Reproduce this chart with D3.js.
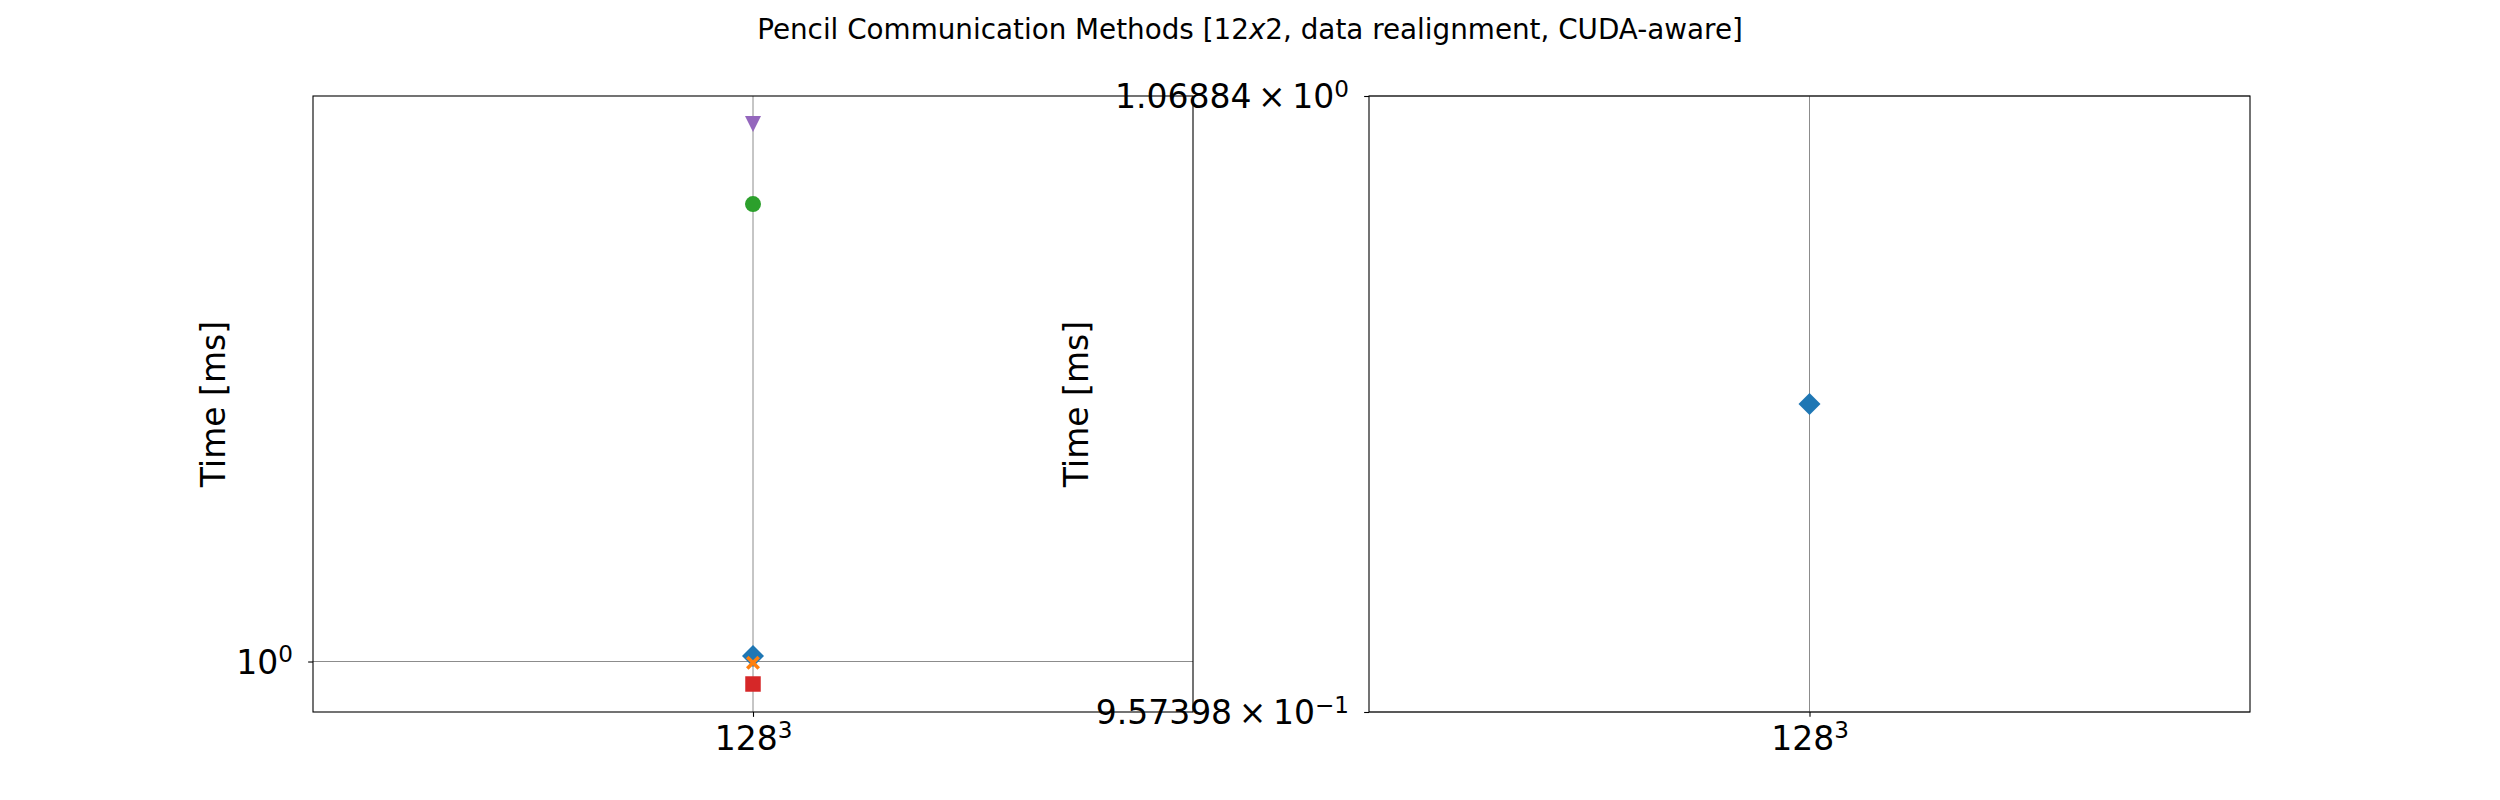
<!DOCTYPE html>
<html>
<head>
<meta charset="utf-8">
<script src="https://cdn.jsdelivr.net/npm/d3@7"></script>
<style>
  html, body { margin: 0; padding: 0; background: #ffffff; }
  svg { display: block; }
  text { font-family: "DejaVu Sans", sans-serif; fill: #000; }
</style>
</head>
<body>
<svg id="chart" width="2500" height="800"></svg>
<script>
// ---------------- data ----------------
const categories = ["128^3"];                 // problem size (x tick label, base^exp)
const seriesNames = ["series 1", "series 2", "series 3", "series 4", "series 5"];
const timesSeries1 = [1.0116];                // blue diamond
const timesSeries2 = [0.9975];                // orange X
const timesSeries3 = [2.606];                 // green circle
const timesSeries4 = [0.954];                 // red square
const timesSeries5 = [3.082];                 // purple triangle
const leftYTicks = [1];                       // 10^0
const rightYLimits = [0.957398, 1.06884];     // explicit limits of right panel
const rightYTicks = [0.957398, 1.06884];
const titleText = ["Pencil Communication Methods [12", "x", "2, data realignment, CUDA-aware]"];
const yLabelText = "Time [ms]";

// ---------------- styles ----------------
const colors = ["#1f77b4", "#ff7f0e", "#2ca02c", "#d62728", "#9467bd"];
const diamond = { draw(ctx, size) { const r = Math.sqrt(size) / 2; ctx.moveTo(0, -r); ctx.lineTo(r, 0); ctx.lineTo(0, r); ctx.lineTo(-r, 0); ctx.closePath(); } };
const triDown = { draw(ctx, size) { const r = Math.sqrt(size) / 2; ctx.moveTo(-r, -r); ctx.lineTo(r, -r); ctx.lineTo(0, r); ctx.closePath(); } };
const xFilled = { draw(ctx, size) {
  const r = Math.sqrt(size) / 2, t = r * 0.36;
  const pts = [[0,-t],[r-t,-r],[r,-r+t],[t,0],[r,r-t],[r-t,r],[0,t],[-r+t,r],[-r,r-t],[-t,0],[-r,-r+t],[-r+t,-r]];
  ctx.moveTo(pts[0][0], pts[0][1]); for (let i = 1; i < pts.length; i++) ctx.lineTo(pts[i][0], pts[i][1]); ctx.closePath(); } };
const symbols = [diamond, xFilled, d3.symbolCircle, d3.symbolSquare, triDown];
const symbolSizes = [22 * 22, 14 * 14, Math.PI * 8 * 8, 15.5 * 15.5, 16 * 16];

const allSeries = [timesSeries1, timesSeries2, timesSeries3, timesSeries4, timesSeries5].map((v, i) => ({
  name: seriesNames[i], values: v, color: colors[i], symbol: symbols[i], size: symbolSizes[i]
}));

const svg = d3.select("#chart");
const FONT_TICK = 33, FONT_LABEL = 33, FONT_TITLE = 27.8;
const TICK_LEN = 4.86;
const yTop = 96, yBottom = 712;
const panels = [
  { x0: 313, x1: 1193, series: allSeries, labelX: 213 },
  { x0: 1369, x1: 2250, series: [allSeries[0]], labelX: 1076, limits: rightYLimits, ticks: rightYTicks }
];

// title
const title = svg.append("text").attr("x", 1250).attr("y", 39).attr("text-anchor", "middle").style("font-size", FONT_TITLE + "px");
title.append("tspan").text(titleText[0]);
title.append("tspan").style("font-style", "italic").text(titleText[1]);
title.append("tspan").text(titleText[2]);

function fmtSci(v) {
  const e = Math.floor(Math.log10(v) + 1e-12);
  const m = v / Math.pow(10, e);
  if (Math.abs(m - 1) < 1e-9) return { base: "10", sup: String(e).replace("-", "\u2212") };
  return { base: (+m.toFixed(5)).toString() + "\u2009\u00d7\u200910", sup: String(e).replace("-", "\u2212") };
}

function setSupText(sel, parts, fs) {
  sel.text(null);
  sel.append("tspan").text(parts.base);
  sel.append("tspan").attr("dy", -fs * 0.36).style("font-size", (fs * 0.7) + "px").text(parts.sup);
}

panels.forEach(p => {
  const g = svg.append("g");
  const x = d3.scalePoint().domain(categories).range([p.x0, p.x1]).padding(0.5);
  let domain;
  if (p.limits) domain = p.limits;
  else {
    const vals = p.series.flatMap(s => s.values);
    const lo = Math.log10(d3.min(vals)), hi = Math.log10(d3.max(vals));
    const pad = 0.05 * (hi - lo);
    domain = [Math.pow(10, lo - pad), Math.pow(10, hi + pad)];
  }
  const y = d3.scaleLog().domain(domain).range([yBottom, yTop]);
  const yTicks = p.ticks || leftYTicks;

  // grid
  const grid = g.append("g").attr("stroke", "#8c8c8c").attr("stroke-width", 1);
  categories.forEach(c => grid.append("line").attr("x1", x(c)).attr("x2", x(c)).attr("y1", yTop).attr("y2", yBottom));
  yTicks.forEach(t => grid.append("line").attr("x1", p.x0).attr("x2", p.x1).attr("y1", y(t)).attr("y2", y(t)));

  // markers
  p.series.forEach(s => {
    g.append("g").selectAll("path").data(s.values.map((v, i) => ({ c: categories[i], v })))
      .join("path")
      .attr("transform", d => `translate(${x(d.c)},${y(d.v)})`)
      .attr("d", d3.symbol().type(s.symbol).size(s.size))
      .attr("fill", s.color);
  });

  // axes
  const yAxis = g.append("g").attr("transform", `translate(${p.x0},0)`)
    .call(d3.axisLeft(y).tickValues(yTicks).tickSize(TICK_LEN).tickPadding(20 - TICK_LEN).tickFormat(d => d));
  yAxis.select(".domain").remove();
  yAxis.selectAll(".tick line").attr("stroke", "#000").attr("stroke-width", 1.1);
  yAxis.selectAll(".tick text").attr("font-family", null).style("font-size", FONT_TICK + "px").attr("dy", "0.36em")
    .each(function(d) { setSupText(d3.select(this), fmtSci(d), FONT_TICK); });

  const xAxis = g.append("g").attr("transform", `translate(0,${yBottom})`)
    .call(d3.axisBottom(x).tickSize(TICK_LEN).tickPadding(9.7));
  xAxis.select(".domain").remove();
  xAxis.selectAll(".tick line").attr("stroke", "#000").attr("stroke-width", 1.1);
  xAxis.selectAll(".tick text").attr("font-family", null).style("font-size", FONT_TICK + "px")
    .each(function(d) { const [b, e] = d.split("^"); setSupText(d3.select(this), { base: b, sup: e }, FONT_TICK); });

  // frame
  g.append("rect").attr("x", p.x0).attr("y", yTop).attr("width", p.x1 - p.x0).attr("height", yBottom - yTop)
    .attr("fill", "none").attr("stroke", "#000").attr("stroke-width", 1.1);

  // y label
  g.append("text").attr("transform", `translate(${p.labelX},${(yTop + yBottom) / 2}) rotate(-90)`)
    .attr("text-anchor", "middle").attr("dominant-baseline", "central")
    .style("font-size", FONT_LABEL + "px").text(yLabelText);
});
</script>
</body>
</html>
